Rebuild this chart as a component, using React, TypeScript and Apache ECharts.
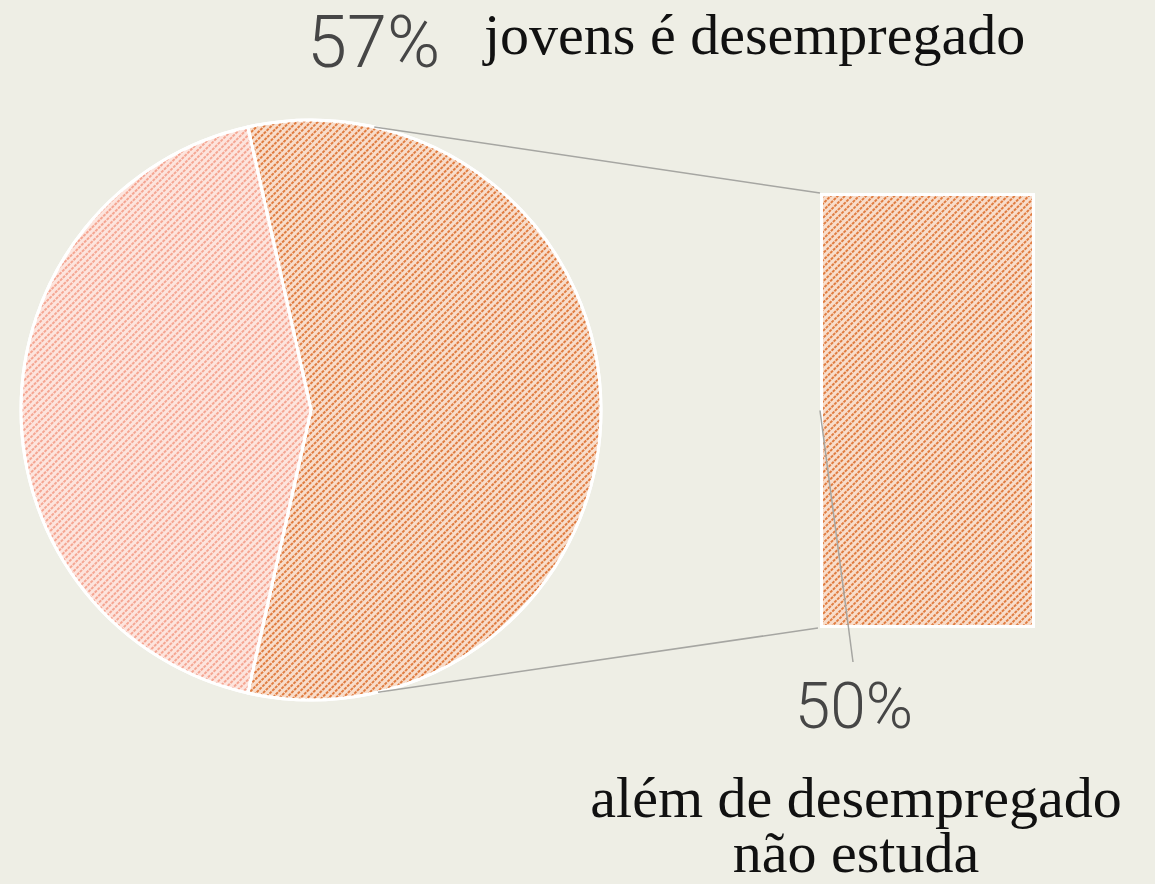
import React, { useEffect, useRef } from "react";
import * as echarts from "echarts";

// ---- data ----
const pieCategories = ["jovens desempregados", "outros"];
const pieValues = [57, 43];
const barCategories = ["desempregados"];
const barValues = [100];
const subShareLabel = "50%";
const mainShareLabel = "57%";
const titleText = "jovens é desempregado";
const subTextLines = ["além de desempregado", "não estuda"];

const W = 1155;
const H = 884;
const BG = "#eeeee5";

export default function App() {
  const ref = useRef<HTMLDivElement>(null);
  useEffect(() => {
    document.body.style.margin = "0";
    const chart = echarts.init(ref.current!, undefined, { renderer: "svg" });
    const cx = 311, cy = 410, r = 290;
    const total = pieValues.reduce((a, b) => a + b, 0);
    const half = (pieValues[0] / total) * 180; // half-angle of dark slice (deg)
    const startAngle = half; // dark slice centred on 3 o'clock
    const bx = 820, by = 193, bw = 215, bh = 435;
    // connector points mirror the slice edges about the vertical
    const tA = ((half - 90) * Math.PI) / 180;
    const p1 = [cx + r * Math.sin(tA), cy - r * Math.cos(tA)];
    const p2 = [cx + r * Math.sin(tA * 1.06), cy + r * Math.cos(tA * 1.06)];

    const darkDecal = {
      symbol: "rect",
      symbolSize: 1,
      color: "rgba(222,114,50,0.9)",
      dashArrayX: [2.2, 0.8],
      dashArrayY: [1.6, 2.6],
      rotation: -Math.PI / 4,
    };
    const lightDecal = {
      symbol: "rect",
      symbolSize: 1,
      color: "rgba(243,150,128,0.8)",
      dashArrayX: [2.2, 0.8],
      dashArrayY: [1.6, 2.6],
      rotation: -Math.PI / 4,
    };
    const lineStyle = { stroke: "#a6a6a2", lineWidth: 1.5 };

    chart.setOption({
      animation: false,
      backgroundColor: BG,
      grid: { left: bx, top: by, width: bw, height: bh },
      xAxis: { type: "category", data: barCategories, show: false },
      yAxis: { type: "value", min: 0, max: 100, show: false },
      series: [
        {
          type: "pie",
          center: [cx, cy],
          radius: r,
          startAngle,
          clockwise: true,
          label: { show: false },
          labelLine: { show: false },
          silent: true,
          data: pieCategories.map((name, i) => ({
            name,
            value: pieValues[i],
            itemStyle: {
              color: i === 0 ? "#f8ddcb" : "#fde4dd",
              borderColor: "#ffffff",
              borderWidth: 3,
              decal: i === 0 ? darkDecal : lightDecal,
            },
          })),
        },
        {
          type: "bar",
          data: barValues,
          barWidth: "100%",
          silent: true,
          itemStyle: {
            color: "#f8ddcb",
            borderColor: "#ffffff",
            borderWidth: 3,
            decal: darkDecal,
          },
        },
      ],
      graphic: [
        {
          type: "line",
          z: 100,
          shape: { x1: p1[0], y1: p1[1], x2: bx, y2: by },
          style: lineStyle,
        },
        {
          type: "line",
          z: 100,
          shape: { x1: p2[0], y1: p2[1], x2: bx - 2, y2: by + bh },
          style: lineStyle,
        },
        {
          type: "line",
          z: 100,
          shape: { x1: bx, y1: by + bh / 2, x2: 853, y2: 662 },
          style: lineStyle,
        },
        {
          type: "text",
          z: 100,
          x: 307,
          y: 42,
          style: {
            text: mainShareLabel,
            font: "300 72px Roboto",
            fill: "#464646",
            textAlign: "left",
            textVerticalAlign: "middle",
          },
        },
        {
          type: "text",
          z: 100,
          x: 484,
          y: 34,
          style: {
            text: titleText,
            font: "58px 'Liberation Serif'",
            fill: "#111111",
            textAlign: "left",
            textVerticalAlign: "middle",
          },
        },
        {
          type: "text",
          z: 100,
          x: 854,
          y: 706,
          style: {
            text: subShareLabel,
            font: "300 64px Roboto",
            fill: "#464646",
            textAlign: "center",
            textVerticalAlign: "middle",
          },
        },
        {
          type: "text",
          z: 100,
          x: 856,
          y: 825,
          style: {
            text: subTextLines.join("\n"),
            font: "58px 'Liberation Serif'",
            lineHeight: 55,
            fill: "#111111",
            textAlign: "center",
            textVerticalAlign: "middle",
          },
        },
      ],
    });
    return () => chart.dispose();
  }, []);
  return <div ref={ref} style={{ width: W, height: H }} />;
}
